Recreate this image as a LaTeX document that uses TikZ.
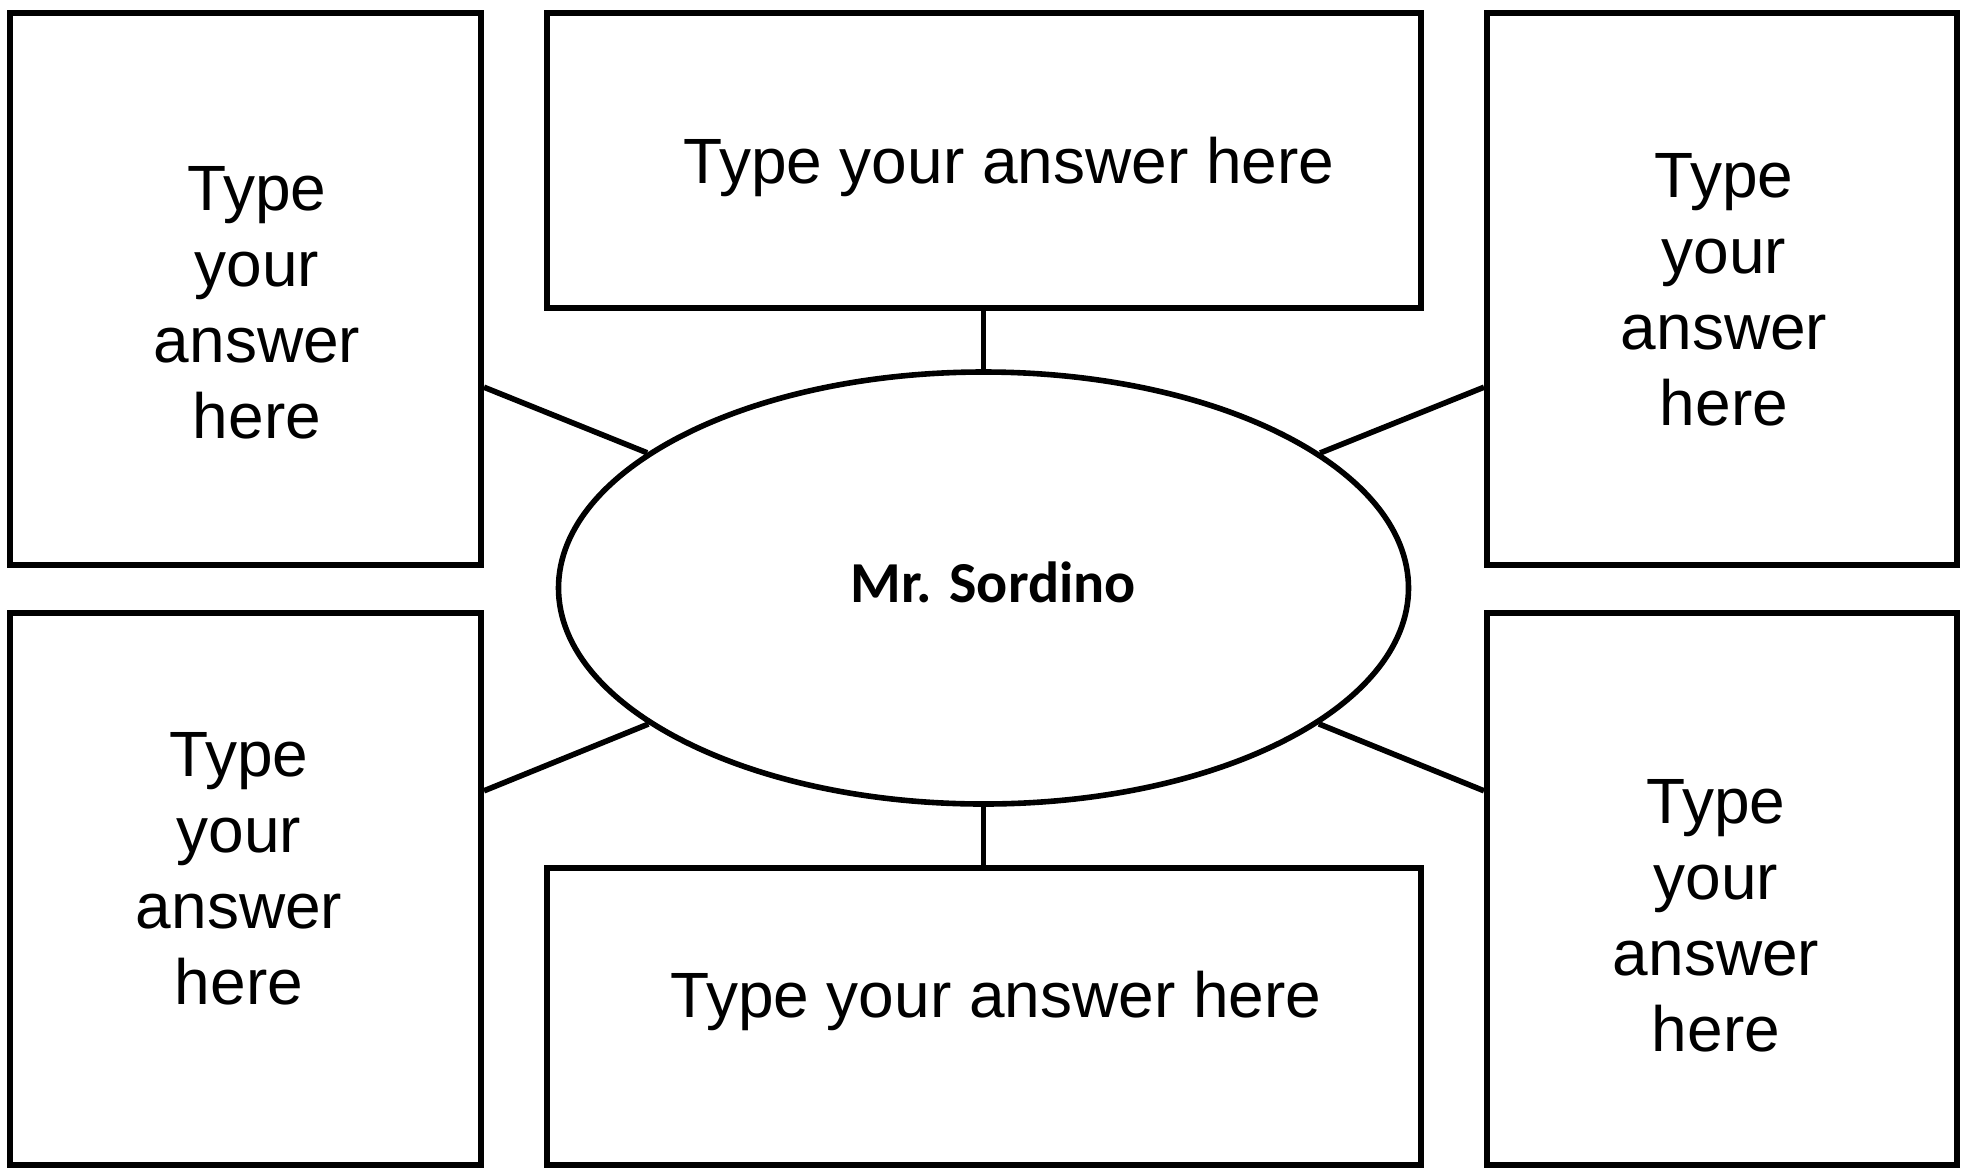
\documentclass[tikz,border=0pt]{standalone}
\usepackage{fontspec}
\setmainfont{Liberation Sans}
\newfontfamily\calfont{Carlito}
\usetikzlibrary{shapes.geometric,calc}
\begin{document}
\begin{tikzpicture}[x=0.5pt,y=-0.5pt,
  boxnode/.style={draw,line width=3pt,rectangle,inner sep=0pt},
  lbl/.style={font=\fontsize{32}{38}\selectfont,align=center,anchor=base,inner sep=0pt},
  link/.style={line width=2.8pt}]
\useasboundingbox (0,0) rectangle (1965,1168);
% boxes
\node[boxnode,minimum width=235.5pt,minimum height=276pt] (tl) at (245.5,289) {};
\node[boxnode,minimum width=437pt,minimum height=147.5pt] (tm) at (983.5,160.5) {};
\node[boxnode,minimum width=235pt,minimum height=276pt] (tr) at (1722,289) {};
\node[boxnode,minimum width=235.5pt,minimum height=276pt] (bl) at (245.5,889) {};
\node[boxnode,minimum width=437pt,minimum height=148.5pt] (bm) at (983.5,1016.5) {};
\node[boxnode,minimum width=235pt,minimum height=276pt] (br) at (1722,889) {};
% ellipse
\node[ellipse,draw,line width=2.8pt,inner sep=0pt,minimum width=425pt,minimum height=216pt] (ell) at (983.5,588) {};
% texts (base = baseline of last line)
\node[lbl] (ttl) at (257,438) {Type\\your\\answer\\here};
\node[lbl] (ttm) at (1009,183) {Type your answer here};
\node[lbl] (ttr) at (1724,425) {Type\\your\\answer\\here};
\node[lbl] (tbl) at (239,1004) {Type\\your\\answer\\here};
\node[lbl] (tbm) at (996,1017) {Type your answer here};
\node[lbl] (tbr) at (1716,1051) {Type\\your\\answer\\here};
\node[anchor=base,inner sep=0pt,font=\calfont\bfseries\fontsize{29}{34}\selectfont] (tell) at (993,602) {Mr. Sordino};
% connectors
\draw[link] (tm.south) -- (ell.north);
\draw[link] (ell.south) -- (bm.north);
\draw[link] ($(tl.north east)!0.676!(tl.south east)$) -- (ell);
\draw[link] ($(tr.north west)!0.676!(tr.south west)$) -- (ell);
\draw[link] ($(bl.north east)!0.324!(bl.south east)$) -- (ell);
\draw[link] ($(br.north west)!0.324!(br.south west)$) -- (ell);
\end{tikzpicture}
\end{document}
